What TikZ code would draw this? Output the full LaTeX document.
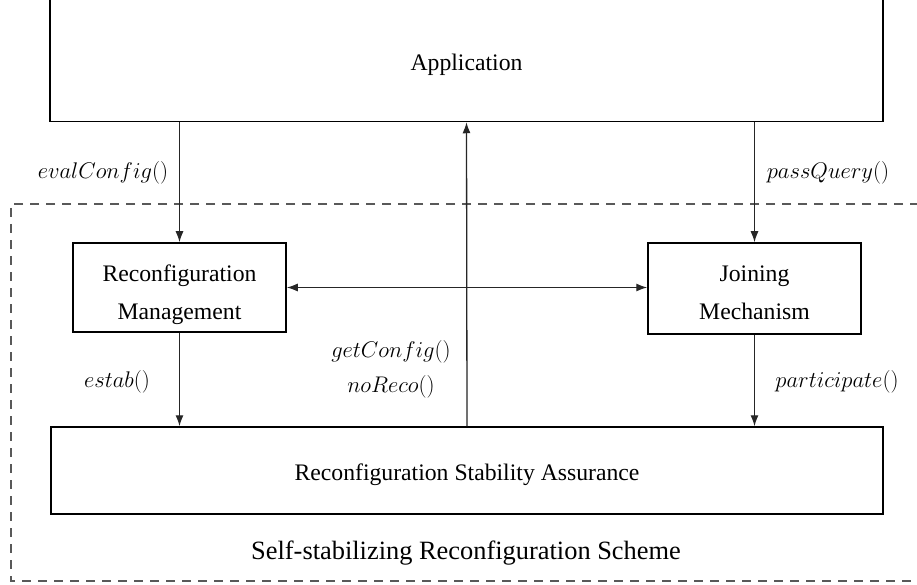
\documentclass[tikz,border=0pt]{standalone}
\usepackage{graphicx}
\usepackage{fontspec}
\setmainfont{Liberation Serif}
\usetikzlibrary{arrows.meta}
\newcommand{\mylbl}[1]{\scalebox{0.91}{$#1$}}
\begin{document}
\begin{tikzpicture}[x=1pt,y=-1pt,
  every node/.style={font=\fontsize{23.7}{38}\selectfont},
  box/.style={draw=black,line width=1.5pt,inner sep=0pt},
  txt/.style={align=center,inner sep=0pt},
  arr/.style={draw=black!85,line width=1.3pt,-{Latex[length=11pt,width=8pt]}},
  darr/.style={draw=black!85,line width=1.3pt,{Latex[length=11pt,width=8pt]}-{Latex[length=11pt,width=8pt]}},
  lbl/.style={inner sep=0pt},
  frame/.style={draw=black!65,line width=1.3pt,dash pattern=on 9pt off 7pt}]
\useasboundingbox (0,0) rectangle (917,585);
\fill[white] (0,0) rectangle (917,585);
\node[box,minimum width=833pt,minimum height=124pt] (app) at (466.5,59.5) {};
\node[txt] (appt) at (466.5,64.5) {Application};
\node[box,minimum width=213pt,minimum height=89pt] (rm) at (179.5,287.5) {};
\node[txt] (rmt) at (179.5,294.5) {Reconfiguration\\Management};
\node[box,minimum width=213pt,minimum height=91pt] (jm) at (754.5,288.5) {};
\node[txt] (jmt) at (754.5,292.5) {Joining\\Mechanism};
\node[box,minimum width=832pt,minimum height=87pt] (rsa) at (467,470.5) {};
\node[txt] (rsat) at (467,474.5) {Reconfiguration Stability Assurance};
\draw[frame] (935,204) -| (11,581) -- (935,581);
\node[font=\fontsize{26.4}{30}\selectfont] (scheme) at (466,553) {Self-stabilizing Reconfiguration Scheme};
\draw[arr] (app.south -| rm.north) -- (rm.north);
\draw[arr] (app.south -| jm.north) -- (jm.north);
\draw[arr] (rsa.north) -- (app.south);
\draw[darr] (rm.east) -- (jm.west |- rm.east);
\draw[arr] (rm.south) -- (rm.south |- rsa.north);
\draw[arr] (jm.south) -- (jm.south |- rsa.north);
\node[lbl] (l1) at (103,173) {\mylbl{evalConfig()}};
\node[lbl] (l2) at (828,173) {\mylbl{passQuery()}};
\node[lbl] (l3) at (391,352) {\mylbl{getConfig()}};
\node[lbl] (l4) at (391,387) {\mylbl{noReco()}};
\node[lbl] (l5) at (117,382) {\mylbl{estab()}};
\node[lbl] (l6) at (837,382) {\mylbl{participate()}};
\end{tikzpicture}
\end{document}
